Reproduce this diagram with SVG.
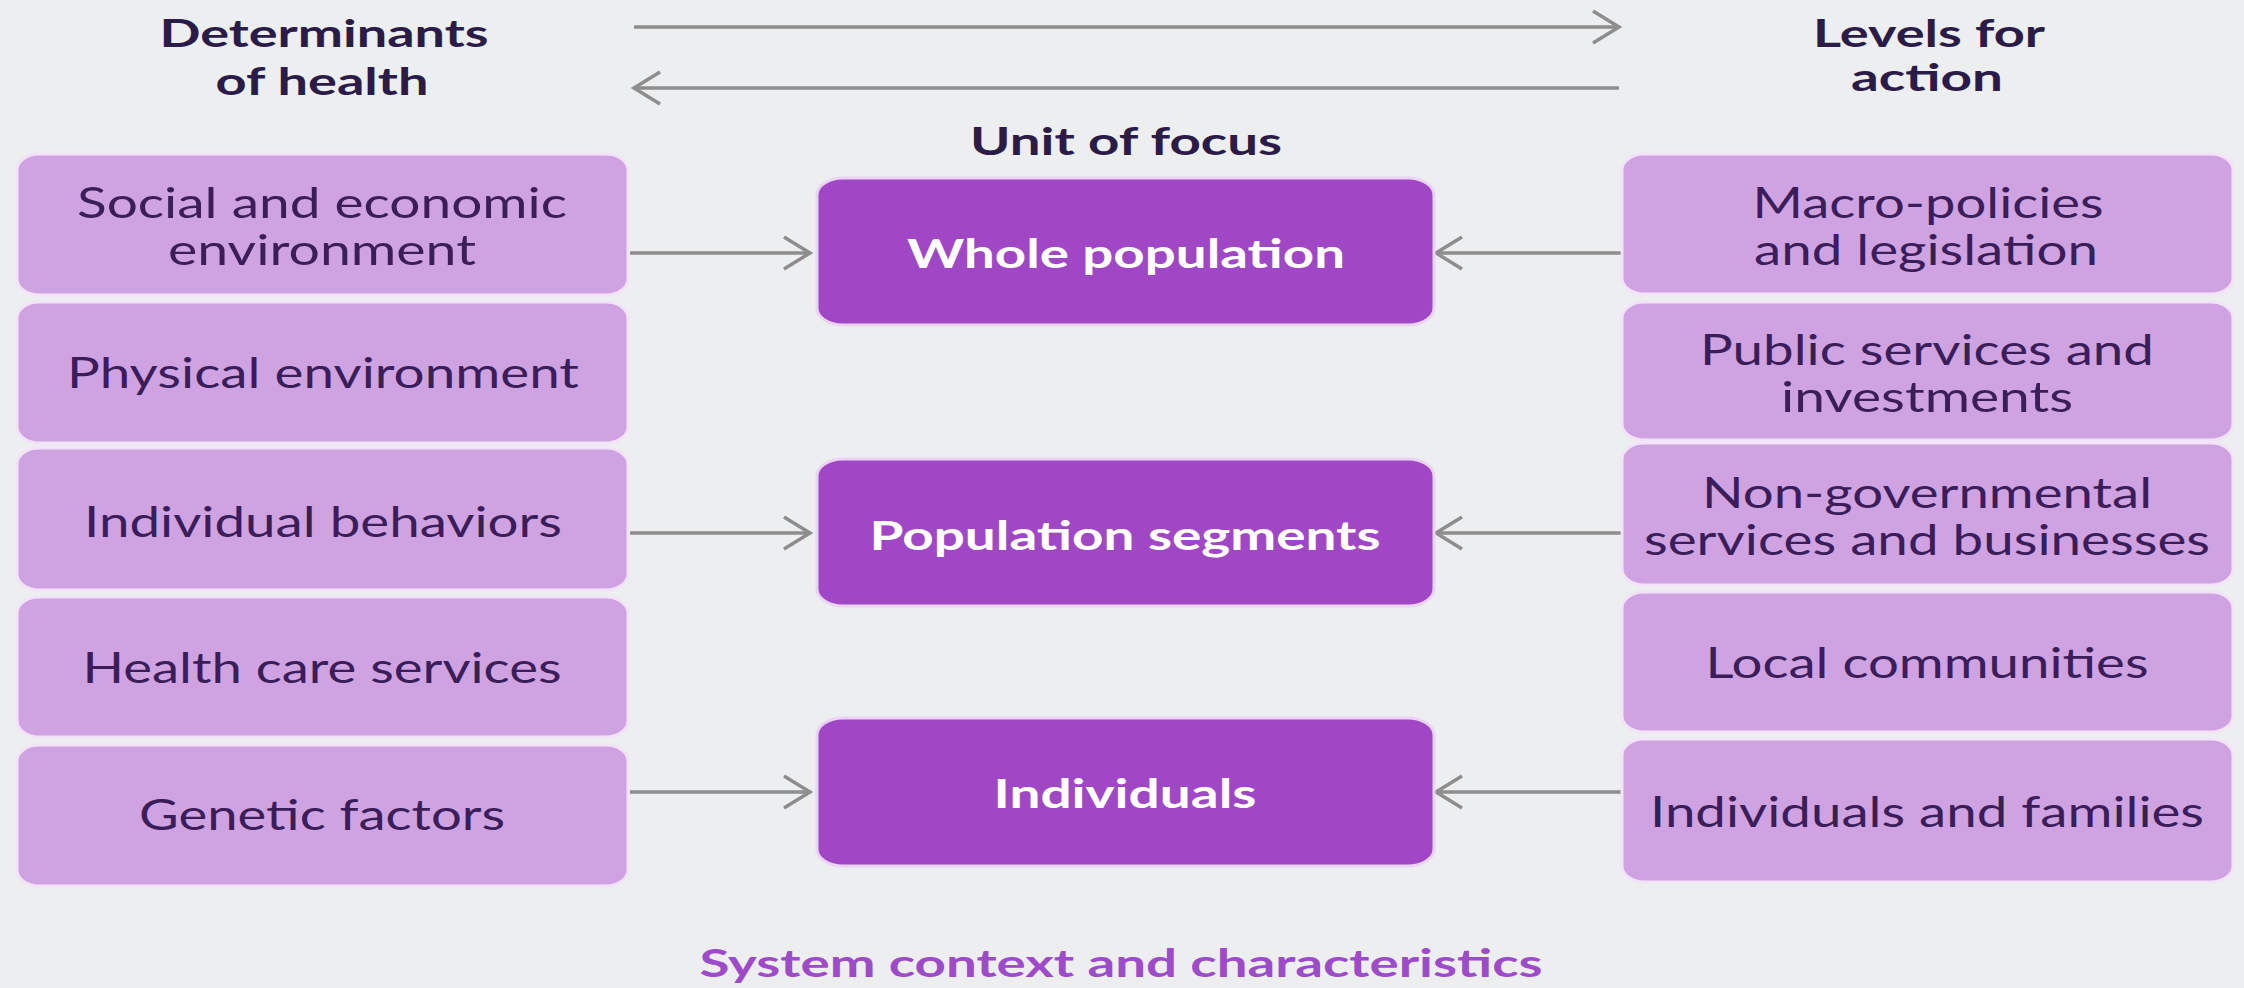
<svg xmlns="http://www.w3.org/2000/svg" width="2244" height="988" viewBox="0 0 2244 988">
<defs>
<style>
.bg{fill:#edeef0}
.lbox{fill:#cfa3e2;stroke:#f3e3f9;stroke-width:3}
.dbox{fill:#a047c5;stroke:#ead3f4;stroke-width:3}
.t{font-family:Lato,"Liberation Sans",sans-serif;text-anchor:middle}
.lt{font-size:42px;fill:#3b1d5a}
.hd{font-size:38px;font-weight:700;fill:#2a1c46}
.ct{font-size:40px;font-weight:700;fill:#ffffff}
.ft{font-size:39px;font-weight:700;fill:#9d4bc9}
.conn{stroke:#8d8d8d;stroke-width:3.5;fill:none}
</style>
<marker id="arr" markerUnits="userSpaceOnUse" viewBox="-30 -20 34 40" markerWidth="34" markerHeight="40" refX="0" refY="0" orient="auto">
<path d="M-26,-16 L0,0 L-26,16" fill="none" stroke="#8d8d8d" stroke-width="3.5"/>
</marker>
</defs>
<rect class="bg" x="0" y="0" width="2244" height="988"/>

<g id="headings">
<text class="t hd" x="324" y="47" textLength="329" lengthAdjust="spacingAndGlyphs">Determinants</text>
<text class="t hd" x="322" y="95" textLength="213" lengthAdjust="spacingAndGlyphs">of health</text>
<text class="t hd" x="1929" y="47" textLength="232" lengthAdjust="spacingAndGlyphs">Levels for</text>
<text class="t hd" x="1927" y="91" textLength="152" lengthAdjust="spacingAndGlyphs">action</text>
<text class="t hd" x="1126" y="155" textLength="312" lengthAdjust="spacingAndGlyphs">Unit of focus</text>
</g>

<g id="connectors">
<path class="conn" d="M634,27 H1619" marker-end="url(#arr)"/>
<path class="conn" d="M1619,88 H634" marker-end="url(#arr)"/>
<path class="conn" d="M630,253 H810" marker-end="url(#arr)"/>
<path class="conn" d="M630,533 H810" marker-end="url(#arr)"/>
<path class="conn" d="M630,792 H810" marker-end="url(#arr)"/>
<path class="conn" d="M1621,253 H1436" marker-end="url(#arr)"/>
<path class="conn" d="M1621,533 H1436" marker-end="url(#arr)"/>
<path class="conn" d="M1621,792 H1436" marker-end="url(#arr)"/>
</g>

<g id="det-social">
<rect class="lbox" x="17" y="154" width="611" height="141" rx="22" ry="16"/>
<text class="t lt" x="322" y="218" textLength="490" lengthAdjust="spacingAndGlyphs">Social and economic</text>
<text class="t lt" x="322" y="265" textLength="308" lengthAdjust="spacingAndGlyphs">environment</text>
</g>
<g id="det-physical">
<rect class="lbox" x="17" y="302" width="611" height="141" rx="22" ry="16"/>
<text class="t lt" x="323" y="388" textLength="512" lengthAdjust="spacingAndGlyphs">Physical environment</text>
</g>
<g id="det-behaviors">
<rect class="lbox" x="17" y="448" width="611" height="142" rx="22" ry="16"/>
<text class="t lt" x="323" y="537" textLength="478" lengthAdjust="spacingAndGlyphs">Individual behaviors</text>
</g>
<g id="det-healthcare">
<rect class="lbox" x="17" y="597" width="611" height="140" rx="22" ry="16"/>
<text class="t lt" x="322" y="683" textLength="479" lengthAdjust="spacingAndGlyphs">Health care services</text>
</g>
<g id="det-genetic">
<rect class="lbox" x="17" y="745" width="611" height="141" rx="22" ry="16"/>
<text class="t lt" x="322" y="830" textLength="366" lengthAdjust="spacingAndGlyphs">Genetic factors</text>
</g>

<g id="unit-whole">
<rect class="dbox" x="817" y="178" width="617" height="147" rx="26" ry="17"/>
<text class="t ct" x="1126" y="268" textLength="438" lengthAdjust="spacingAndGlyphs">Whole population</text>
</g>
<g id="unit-segments">
<rect class="dbox" x="817" y="459" width="617" height="147" rx="26" ry="17"/>
<text class="t ct" x="1125" y="550" textLength="511" lengthAdjust="spacingAndGlyphs">Population segments</text>
</g>
<g id="unit-individuals">
<rect class="dbox" x="817" y="718" width="617" height="148" rx="26" ry="17"/>
<text class="t ct" x="1125" y="808" textLength="263" lengthAdjust="spacingAndGlyphs">Individuals</text>
</g>

<g id="lvl-macro">
<rect class="lbox" x="1622" y="154" width="611" height="140" rx="22" ry="16"/>
<text class="t lt" x="1928" y="218" textLength="351" lengthAdjust="spacingAndGlyphs">Macro-policies</text>
<text class="t lt" x="1926" y="265" textLength="344" lengthAdjust="spacingAndGlyphs">and legislation</text>
</g>
<g id="lvl-public">
<rect class="lbox" x="1622" y="302" width="611" height="138" rx="22" ry="16"/>
<text class="t lt" x="1927" y="365" textLength="454" lengthAdjust="spacingAndGlyphs">Public services and</text>
<text class="t lt" x="1927" y="412" textLength="292" lengthAdjust="spacingAndGlyphs">investments</text>
</g>
<g id="lvl-ngo">
<rect class="lbox" x="1622" y="443" width="611" height="142" rx="22" ry="16"/>
<text class="t lt" x="1927" y="508" textLength="450" lengthAdjust="spacingAndGlyphs">Non-governmental</text>
<text class="t lt" x="1927" y="555" textLength="566" lengthAdjust="spacingAndGlyphs">services and businesses</text>
</g>
<g id="lvl-local">
<rect class="lbox" x="1622" y="592" width="611" height="140" rx="22" ry="16"/>
<text class="t lt" x="1927" y="678" textLength="443" lengthAdjust="spacingAndGlyphs">Local communities</text>
</g>
<g id="lvl-individuals">
<rect class="lbox" x="1622" y="739" width="611" height="143" rx="22" ry="16"/>
<text class="t lt" x="1927" y="827" textLength="554" lengthAdjust="spacingAndGlyphs">Individuals and families</text>
</g>

<g id="footer">
<text class="t ft" x="1121" y="977" textLength="843" lengthAdjust="spacingAndGlyphs">System context and characteristics</text>
</g>
</svg>
